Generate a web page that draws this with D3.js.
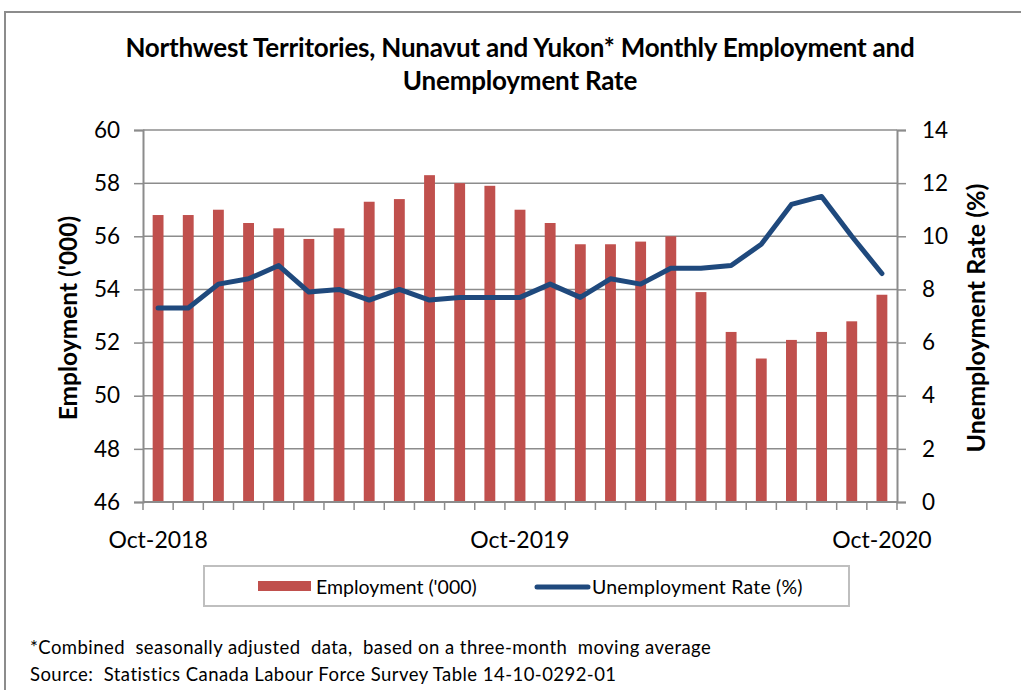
<!DOCTYPE html>
<html>
<head>
<meta charset="utf-8">
<script src="https://cdn.jsdelivr.net/npm/d3@7"></script>
<style>
  html, body { margin: 0; padding: 0; background: #fff; }
  svg { display: block; }
  text { font-family: Lato, "Open Sans", sans-serif; fill: #000; }
</style>
</head>
<body>
<svg id="chart" width="1021" height="690"></svg>
<script>
// ---- Data ----
const months = ["Oct-2018","Nov-2018","Dec-2018","Jan-2019","Feb-2019","Mar-2019","Apr-2019","May-2019","Jun-2019","Jul-2019","Aug-2019","Sep-2019",
                "Oct-2019","Nov-2019","Dec-2019","Jan-2020","Feb-2020","Mar-2020","Apr-2020","May-2020","Jun-2020","Jul-2020","Aug-2020","Sep-2020","Oct-2020"];
const employment = [56.8, 56.8, 57.0, 56.5, 56.3, 55.9, 56.3, 57.3, 57.4, 58.3, 58.0, 57.9,
                    57.0, 56.5, 55.7, 55.7, 55.8, 56.0, 53.9, 52.4, 51.4, 52.1, 52.4, 52.8, 53.8];
const unemploymentRate = [7.3, 7.3, 8.2, 8.4, 8.9, 7.9, 8.0, 7.6, 8.0, 7.6, 7.7, 7.7,
                          7.7, 8.2, 7.7, 8.4, 8.2, 8.8, 8.8, 8.9, 9.7, 11.2, 11.5, 10.0, 8.6];
const xTickLabels = ["Oct-2018", "Oct-2019", "Oct-2020"];
const leftTicks = [46, 48, 50, 52, 54, 56, 58, 60];
const rightTicks = [0, 2, 4, 6, 8, 10, 12, 14];
const titleLines = ["Northwest Territories, Nunavut and Yukon* Monthly Employment and", "Unemployment Rate"];
const leftAxisTitle = "Employment ('000)";
const rightAxisTitle = "Unemployment Rate (%)";
const legendLabels = ["Employment ('000)", "Unemployment Rate (%)"];
const footnotes = ["*Combined  seasonally adjusted  data,  based on a three-month  moving average",
                   "Source:  Statistics Canada Labour Force Survey Table 14-10-0292-01"];

// ---- Layout ----
const W = 1021, H = 690;
const plot = { left: 143, right: 897, top: 130, bottom: 502 };
const barColor = "#C0504D", lineColor = "#1F497D", gridColor = "#8C8C8C";

const svg = d3.select("#chart");
svg.append("rect").attr("width", W).attr("height", H).attr("fill", "#fff");
// outer chart border
svg.append("rect").attr("x", 5).attr("y", 12).attr("width", W + 20).attr("height", H + 20)
  .attr("fill", "none").attr("stroke", "#8C8C8C").attr("stroke-width", 2);

const x = d3.scaleBand().domain(months).range([plot.left, plot.right]).paddingInner(0.64).paddingOuter(0.32);
const yL = d3.scaleLinear().domain([46, 60]).range([plot.bottom, plot.top]);
const yR = d3.scaleLinear().domain([0, 14]).range([plot.bottom, plot.top]);

// gridlines
svg.append("g").selectAll("line").data(leftTicks.filter(d => d !== 46)).join("line")
  .attr("x1", plot.left).attr("x2", plot.right)
  .attr("y1", d => yL(d)).attr("y2", d => yL(d))
  .attr("stroke", gridColor).attr("stroke-width", 1.5);

// bars
svg.append("g").selectAll("rect").data(months).join("rect")
  .attr("x", d => x(d)).attr("width", x.bandwidth())
  .attr("y", (d, i) => yL(employment[i]))
  .attr("height", (d, i) => yL(46) - yL(employment[i]))
  .attr("fill", barColor);

// left axis
const axL = d3.axisLeft(yL).tickValues(leftTicks).tickSize(9).tickPadding(14).tickFormat(d3.format("d"));
const gL = svg.append("g").attr("transform", `translate(${plot.left},0)`).call(axL);
gL.select(".domain").attr("stroke", gridColor).attr("stroke-width", 2);
gL.selectAll(".tick line").attr("stroke", gridColor).attr("stroke-width", 1.5);
gL.selectAll(".tick text").attr("font-size", 22.5).attr("font-family", "Lato, sans-serif").attr("fill", "#000");

// right axis
const axR = d3.axisRight(yR).tickValues(rightTicks).tickSize(9).tickPadding(16).tickFormat(d3.format("d"));
const gR = svg.append("g").attr("transform", `translate(${plot.right},0)`).call(axR);
gR.select(".domain").attr("stroke", gridColor).attr("stroke-width", 2);
gR.selectAll(".tick line").attr("stroke", gridColor).attr("stroke-width", 1.5);
gR.selectAll(".tick text").attr("font-size", 22.5).attr("font-family", "Lato, sans-serif").attr("fill", "#000");

// bottom axis: baseline, boundary ticks, labels
svg.append("line").attr("x1", plot.left).attr("x2", plot.right)
  .attr("y1", plot.bottom).attr("y2", plot.bottom)
  .attr("stroke", gridColor).attr("stroke-width", 2);
const boundaries = d3.range(months.length + 1).map(i => plot.left + i * x.step());
svg.append("g").selectAll("line").data(boundaries).join("line")
  .attr("x1", d => d).attr("x2", d => d)
  .attr("y1", plot.bottom).attr("y2", plot.bottom + 8)
  .attr("stroke", gridColor).attr("stroke-width", 1.5);
svg.append("g").selectAll("text").data(xTickLabels).join("text")
  .attr("x", d => x(d) + x.bandwidth() / 2).attr("y", 548)
  .attr("text-anchor", "middle").attr("font-size", 23).text(d => d);

// line
const line = d3.line().x((d, i) => x(months[i]) + x.bandwidth() / 2).y(d => yR(d));
svg.append("path").datum(unemploymentRate).attr("d", line)
  .attr("fill", "none").attr("stroke", lineColor).attr("stroke-width", 5)
  .attr("stroke-linejoin", "round").attr("stroke-linecap", "round");

// titles
svg.append("g").selectAll("text").data(titleLines).join("text")
  .attr("x", 520).attr("y", (d, i) => 57 + i * 33)
  .attr("text-anchor", "middle").attr("font-size", 26).attr("font-weight", "bold")
  .attr("letter-spacing", -0.2).text(d => d);

svg.append("text").attr("transform", "translate(77,318) rotate(-90)")
  .attr("text-anchor", "middle").attr("font-size", 24.5).attr("font-weight", "bold").text(leftAxisTitle);
svg.append("text").attr("transform", "translate(985,318) rotate(-90)")
  .attr("text-anchor", "middle").attr("font-size", 25).attr("font-weight", "bold").text(rightAxisTitle);

// legend
const lg = svg.append("g");
lg.append("rect").attr("x", 204).attr("y", 566).attr("width", 645).attr("height", 40)
  .attr("fill", "#fff").attr("stroke", "#BFBFBF").attr("stroke-width", 2);
lg.append("rect").attr("x", 258).attr("y", 581).attr("width", 53).attr("height", 10).attr("fill", barColor);
lg.append("text").attr("x", 316).attr("y", 594).attr("font-size", 19.5).text(legendLabels[0]);
lg.append("line").attr("x1", 537).attr("x2", 588).attr("y1", 587).attr("y2", 587)
  .attr("stroke", lineColor).attr("stroke-width", 5).attr("stroke-linecap", "round");
lg.append("text").attr("x", 592).attr("y", 594).attr("font-size", 19.5).attr("letter-spacing", 0.2).text(legendLabels[1]);

// footnotes
svg.append("g").selectAll("text").data(footnotes).join("text")
  .attr("x", 30).attr("y", (d, i) => 654 + i * 27)
  .attr("font-size", 18.5).attr("letter-spacing", 0.45).style("white-space", "pre").text(d => d);
</script>
</body>
</html>
